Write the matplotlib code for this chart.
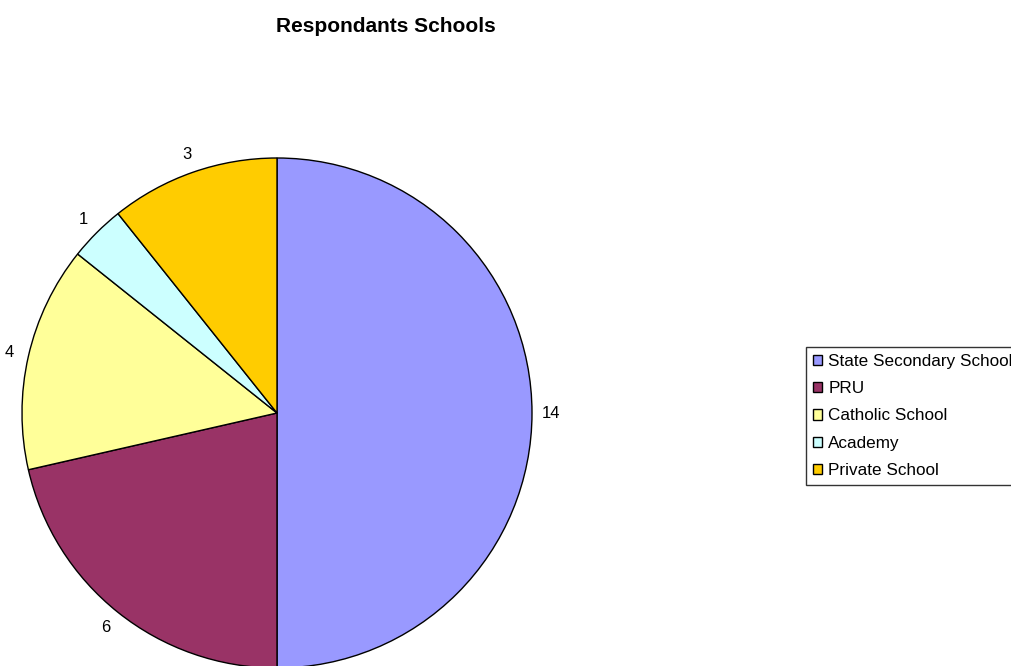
import matplotlib.pyplot as plt

plt.rcParams['font.family'] = ['Liberation Sans', 'DejaVu Sans']

schools = ['State Secondary School', 'PRU', 'Catholic School', 'Academy', 'Private School']
counts = [14, 6, 4, 1, 3]
colours = ['#9999FF', '#993366', '#FFFF99', '#CCFFFF', '#FFCC00']

fig = plt.figure(figsize=(10.12, 6.66), dpi=100)
W, H = 1012, 666
# pie centre (277, 413) px, radius 255 px
ax = fig.add_axes([(277 - 255) / W, (H - 413 - 255) / H, 510 / W, 510 / H])

wedges, texts = ax.pie(counts, colors=colours, startangle=90, counterclock=False,
                       labels=[str(c) for c in counts], labeldistance=1.075,
                       wedgeprops=dict(edgecolor='black', linewidth=1),
                       textprops=dict(fontsize=12, color='black'))
for t in texts:
    t.set_horizontalalignment('center')
    t.set_verticalalignment('center')
ax.set_xlim(-1, 1)
ax.set_ylim(-1, 1)
for w in wedges:
    w.set_clip_on(False)

fig.text(386 / W, 1 - 27 / H, 'Respondants Schools', ha='center', va='center',
         fontsize=15, fontweight='bold')

leg = fig.legend(wedges, schools, loc='upper left', bbox_to_anchor=(806 / W, 1 - 347 / H),
                 fontsize=12.3, frameon=True, fancybox=False, edgecolor='black',
                 handlelength=0.55, handleheight=0.55, handletextpad=0.35,
                 labelspacing=0.72, borderpad=0.4, borderaxespad=0)
leg.get_frame().set_linewidth(1)

fig.savefig('out.png', dpi=100)
